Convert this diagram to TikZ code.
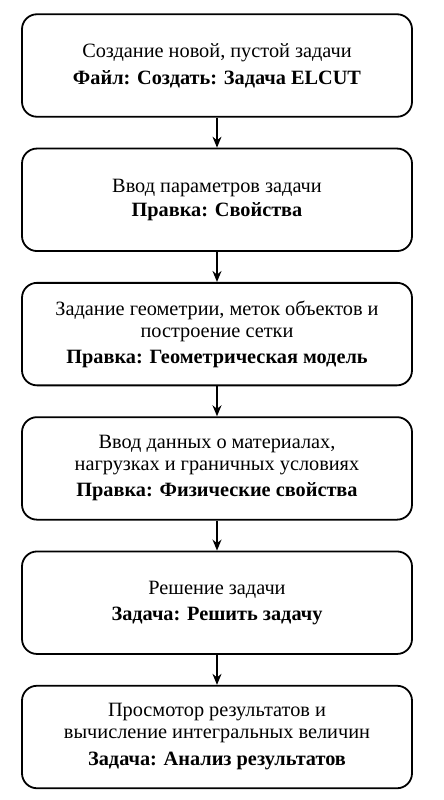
\documentclass[tikz,border=0pt]{standalone}
\usepackage{fontspec}
\setmainfont{Liberation Serif}
\usetikzlibrary{arrows.meta,positioning}

\begin{document}
\begin{tikzpicture}[
    x=1pt, y=1pt,
    node distance=30pt,
    box/.style={rectangle, rounded corners=15pt, draw, line width=1.8pt,
                minimum width=390pt, minimum height=102.5pt, align=center,
                font=\fontsize{20.3}{22}\selectfont},
    arrow/.style={-{Stealth[length=11pt,width=9pt]}, line width=1.5pt}
  ]
    \useasboundingbox (0,0) rectangle (444,-800);
    \node[box] (create) at (217,-65.5) {Создание новой, пустой задачи\\[5pt]\textbf{Файл: Создать: Задача ELCUT}};
    \node[box, below=of create] (props) {Ввод параметров задачи\\[2pt]\textbf{Правка: Свойства}};
    \node[box, below=of props]  (geom)  {Задание геометрии, меток объектов и\\построение сетки\\[4pt]\textbf{Правка: Геометрическая модель}};
    \node[box, below=of geom]   (phys)  {Ввод данных о материалах,\\нагрузках и граничных условиях\\[4pt]\textbf{Правка: Физические свойства}};
    \node[box, below=of phys]   (solve) {Решение задачи\\[4pt]\textbf{Задача: Решить задачу}};
    \node[box, below=of solve]  (post)  {Просмотор результатов и\\вычисление интегральных величин\\[5pt]\textbf{Задача: Анализ результатов}};

    \draw[arrow] (create) -- (props);
    \draw[arrow] (props)  -- (geom);
    \draw[arrow] (geom)   -- (phys);
    \draw[arrow] (phys)   -- (solve);
    \draw[arrow] (solve)  -- (post);
  \end{tikzpicture}
\end{document}
